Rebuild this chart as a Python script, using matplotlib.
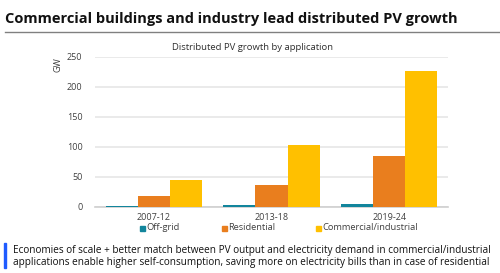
import matplotlib
matplotlib.use("Agg")
import matplotlib.pyplot as plt
import numpy as np
from matplotlib.lines import Line2D
from matplotlib.patches import Rectangle

categories = ["2007-12", "2013-18", "2019-24"]
series_names = ["Off-grid", "Residential", "Commercial/industrial"]
off_grid = [1.0, 2.8, 5.5]
residential = [19, 36, 84.5]
commercial = [44.5, 103, 226]
colors = ["#12859C", "#E97E1E", "#FFC000"]

plt.rcParams['font.family'] = ['Open Sans', 'DejaVu Sans']

W, H = 500, 273
fig = plt.figure(figsize=(W/100, H/100), dpi=100)

def fx(px):
    return px / W
def fy(py):
    return 1 - py / H

ax = fig.add_axes([fx(95), fy(207), fx(448) - fx(95), fy(57) - fy(207)])
x = np.arange(len(categories))
bw = 0.272
for i, (vals, c, name) in enumerate(zip([off_grid, residential, commercial], colors, series_names)):
    ax.bar(x + (i - 1) * bw, vals, width=bw, color=c, label=name, zorder=3)

ax.set_xlim(-0.5, 2.5)
ax.set_ylim(0, 250)
ax.set_yticks([0, 50, 100, 150, 200, 250])
ax.yaxis.grid(True, color="#e6e6e6", linewidth=1.2, zorder=0)
ax.set_axisbelow(True)
for s in ["top", "right", "left"]:
    ax.spines[s].set_visible(False)
ax.spines["bottom"].set_color("#cfcfcf")
ax.spines["bottom"].set_linewidth(1.2)
ax.set_xticks(x)
ax.set_xticklabels(categories)
ax.tick_params(axis="both", length=0, labelsize=6.5, colors="#404040")
ax.tick_params(axis="y", pad=9)
ax.tick_params(axis="x", pad=4)

fig.text(fx(58), fy(65), "GW", rotation=90, fontsize=6.5, color="#404040", ha="center", va="center")
fig.text(fx(252), fy(47), "Distributed PV growth by application", fontsize=6.8, color="#303030", ha="center", va="center")

# legend
leg_y = fy(228)
for name, c, px in zip(series_names, colors, [142, 224, 318]):
    fig.patches.append(Rectangle((fx(px - 2), leg_y - 2.5/H), 5/W, 5/H, transform=fig.transFigure, color=c))
    fig.text(fx(px + 4), leg_y, name, fontsize=6.7, color="#404040", ha="left", va="center")

# title
fig.text(fx(5), fy(18.5), "Commercial buildings and industry lead distributed PV growth",
         fontsize=10.5, fontweight="bold", color="#111111", ha="left", va="center")
fig.lines.append(Line2D([fx(5), 1], [fy(32), fy(32)], transform=fig.transFigure, color="#808080", linewidth=1.0))

# bottom note
fig.patches.append(Rectangle((fx(4), fy(268)), 2.2/W, 25/H, transform=fig.transFigure, color="#1F5BFF"))
fig.text(fx(13), fy(250), "Economies of scale + better match between PV output and electricity demand in commercial/industrial",
         fontsize=7.2, color="#111111", ha="left", va="center")
fig.text(fx(13), fy(262), "applications enable higher self-consumption, saving more on electricity bills than in case of residential",
         fontsize=7.2, color="#111111", ha="left", va="center")

fig.savefig("out.png", dpi=100)
